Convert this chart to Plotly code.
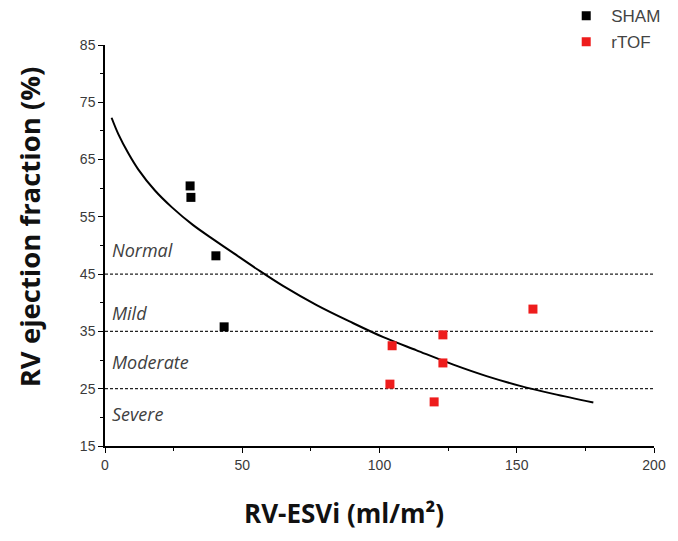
import plotly.graph_objects as go

# Data
sham_x = [31.0, 31.3, 40.4, 43.4]
sham_y = [60.4, 58.4, 48.2, 35.8]

rtof_x = [104.6, 123.1, 123.1, 103.8, 119.9, 155.9]
rtof_y = [32.5, 34.4, 29.5, 25.8, 22.7, 38.9]

curve_x = [2.4, 4.9, 8.5, 12.1, 18.2, 24.3, 32.0, 40.0, 46.7, 55.3, 65.0, 77.1, 89.3, 101.4, 113.5, 126.9, 139.0, 151.2, 163.3, 177.9]
curve_y = [72.3, 69.4, 66.1, 63.3, 59.6, 56.7, 53.6, 50.9, 48.7, 45.9, 42.9, 39.6, 36.7, 34.0, 31.7, 29.2, 27.2, 25.5, 24.1, 22.6]

thresholds = [45, 35, 25]
region_labels = ["Normal", "Mild", "Moderate", "Severe"]
region_label_y = [49.3, 38.3, 29.6, 20.5]

x_title = "RV-ESVi (ml/m²)"
y_title = "RV ejection fraction (%)"

fig = go.Figure()

fig.add_trace(go.Scatter(
    x=curve_x, y=curve_y, mode="lines", line=dict(color="black", width=2, shape="spline", smoothing=1.0),
    showlegend=False, hoverinfo="skip"))

fig.add_trace(go.Scatter(
    x=sham_x, y=sham_y, mode="markers", name="SHAM", legendgroup="a",
    marker=dict(symbol="square", size=9, color="black")))
fig.add_trace(go.Scatter(
    x=rtof_x, y=rtof_y, mode="markers", name="rTOF", legendgroup="b",
    marker=dict(symbol="square", size=9, color="#ee1c1c")))

for t in thresholds:
    fig.add_shape(type="line", xref="x", yref="y", x0=0, x1=200, y0=t, y1=t,
                  line=dict(color="#222222", width=1.2, dash="3px,2px"), layer="below")

for lab, ly in zip(region_labels, region_label_y):
    fig.add_annotation(x=2.0, y=ly, xref="x", yref="y", text=lab, showarrow=False,
                       xanchor="left", yanchor="middle",
                       font=dict(family="Open Sans", size=18, color="#404040", style="italic"))

# axis titles (placed as annotations to match the reference offset)
fig.add_annotation(x=0.435, y=-0.167, xref="paper", yref="paper", text=x_title, showarrow=False,
                   xanchor="center", yanchor="middle",
                   font=dict(family="Open Sans", size=26, color="#111111", weight="bold"))
fig.add_annotation(x=-0.138, y=0.546, xref="paper", yref="paper", text=y_title, showarrow=False,
                   xanchor="center", yanchor="middle", textangle=-90,
                   font=dict(family="Open Sans", size=27.5, color="#111111", weight="bold"))

axis_common = dict(
    showline=True, linecolor="black", linewidth=1.5, ticks="outside", ticklen=5,
    tickwidth=1.2, tickcolor="black", showgrid=False, zeroline=False, automargin=False,
    tickfont=dict(family="Liberation Sans", size=14, color="#3a3a3a"),
)

fig.update_xaxes(range=[0, 200], tickvals=[0, 50, 100, 150, 200],
                 minor=dict(ticks="outside", ticklen=3, tickvals=[25, 75, 125, 175], tickcolor="black"),
                 **axis_common)
fig.update_yaxes(range=[15, 85], tickvals=[15, 25, 35, 45, 55, 65, 75, 85],
                 minor=dict(ticks="outside", ticklen=3, tickvals=[20, 30, 40, 50, 60, 70, 80], tickcolor="black"),
                 **axis_common)

fig.update_layout(
    width=678, height=541,
    margin=dict(l=97, r=32, t=37, b=103, autoexpand=False),
    plot_bgcolor="white", paper_bgcolor="white",
    legend=dict(x=0.831, y=1.117, xanchor="left", yanchor="top", itemwidth=40,
                tracegroupgap=1, bgcolor="rgba(0,0,0,0)",
                font=dict(family="Liberation Sans", size=17, color="#444444")),
)

fig.write_html("out.html")
